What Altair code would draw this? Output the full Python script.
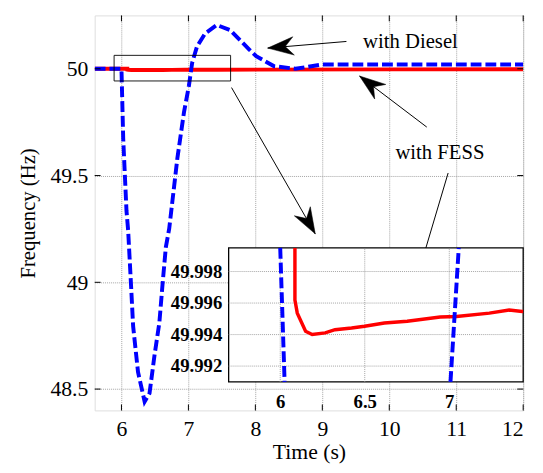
import math
import altair as alt
import pandas as pd

# ---------------- data ----------------
x_domain = [5.6, 12.0]
y_domain = [48.4, 50.25]
x_ticks = [6, 7, 8, 9, 10, 11, 12]
y_ticks = [48.5, 49, 49.5, 50]

# with Diesel (blue dashed)
diesel_t = [5.6, 6.0, 6.026, 6.075, 6.1, 6.149, 6.174, 6.247, 6.346, 6.419, 6.493,
            6.566, 6.615, 6.663, 6.713, 6.835, 6.934, 7.007, 7.056, 7.129, 7.251,
            7.424, 7.619, 7.913, 8.012, 8.281, 8.6, 8.993, 12.0]
diesel_f = [50.0, 50.0, 49.673, 49.335, 49.242, 48.950, 48.795, 48.580, 48.441, 48.480,
            48.657, 48.811, 48.996, 49.165, 49.251, 49.581, 49.797, 49.920, 50.028,
            50.105, 50.166, 50.205, 50.182, 50.089, 50.059, 50.012, 50.0, 50.02, 50.02]

# with FESS (red solid)
fess_t = [5.6, 6.087, 6.087, 6.101, 6.150, 6.189, 6.266, 6.324, 6.422, 6.499, 6.616,
          6.751, 6.946, 7.043, 7.237, 7.354, 7.431, 8.0, 10.0, 12.0]
fess_f = [50.0, 50.0, 49.99619, 49.99536, 49.99421, 49.99400, 49.99411, 49.99431,
          49.99442, 49.99453, 49.99473, 49.99484, 49.99511, 49.99515, 49.99536,
          49.99556, 49.99546, 49.9962, 49.9972, 49.9980]

# inset (zoom) axes
inset_x_domain = [5.695, 7.437]
inset_y_domain = [49.991, 49.9995]
inset_x_ticks = [6, 6.5, 7]
inset_y_ticks = [49.992, 49.994, 49.996, 49.998]

# zoom rectangle on main plot
zoom_box_t = [5.89, 7.63]
zoom_box_f = [49.943, 50.063]

# arrows: start (t0,f0) -> tip (t1,f1)
arrow_t0 = [9.360, 10.560, 7.644, 10.879]
arrow_f0 = [50.128, 49.727, 49.912, 49.512]
arrow_t1 = [8.184, 9.556, 8.894, 10.325]
arrow_f1 = [50.097, 49.966, 49.227, 48.927]

label_text = ["with Diesel", "with FESS"]
label_t = [10.316, 10.757]
label_f = [50.123, 49.604]

# ---------------- layout ----------------
W, H = 435, 401
inset_x_range = [136, 435]
inset_y_range = [372, 236]
FONT = "Liberation Serif, serif"
BLUE = "#0000ff"
RED = "#ff0000"

px_t = W / (x_domain[1] - x_domain[0])
px_f = H / (y_domain[1] - y_domain[0])

main_xs = alt.Scale(domain=x_domain, nice=False, zero=False)
main_ys = alt.Scale(domain=y_domain, nice=False, zero=False)
main_xa = alt.Axis(values=x_ticks, format="d", title="Time (s)", grid=True,
                   gridColor="#9a9a9a", gridDash=[1, 1], gridWidth=0.9,
                   ticks=False, domain=False, labelFont=FONT, labelFontSize=22,
                   labelColor="black", labelPadding=8, titleFont=FONT,
                   titleFontSize=22, titleFontWeight="normal", titleColor="black",
                   titlePadding=3)
main_ya = alt.Axis(values=y_ticks, format="~g", title="Frequency (Hz)", grid=True,
                   gridColor="#9a9a9a", gridDash=[1, 1], gridWidth=0.9,
                   ticks=False, domain=False, labelFont=FONT, labelFontSize=22,
                   labelColor="black", labelPadding=7, titleFont=FONT,
                   titleFontSize=21, titleFontWeight="normal", titleColor="black",
                   titlePadding=12)


def MX(f):
    return alt.X(f, type="quantitative", scale=main_xs, axis=main_xa)


def MY(f):
    return alt.Y(f, type="quantitative", scale=main_ys, axis=main_ya)


ins_xs = alt.Scale(domain=inset_x_domain, range=inset_x_range, nice=False, zero=False)
ins_ys = alt.Scale(domain=inset_y_domain, range=inset_y_range, nice=False, zero=False,
                   clamp=True)
ins_xa = alt.Axis(orient="bottom", offset=-(H - inset_y_range[0]), values=inset_x_ticks,
                  format="~g", title=None, grid=False, ticks=False, domain=False,
                  labelFont=FONT, labelFontSize=19, labelFontWeight="bold",
                  labelColor="black", labelPadding=11, zindex=1)
ins_ya = alt.Axis(orient="left", offset=-inset_x_range[0], values=inset_y_ticks,
                  format=".3f", title=None, grid=False, ticks=False, domain=False,
                  labelFont=FONT, labelFontSize=19, labelFontWeight="bold",
                  labelColor="black", labelPadding=7, zindex=1)


def IX(f):
    return alt.X(f, type="quantitative", scale=ins_xs, axis=ins_xa)


def IY(f):
    return alt.Y(f, type="quantitative", scale=ins_ys, axis=ins_ya)


diesel_df = pd.DataFrame({"t": diesel_t, "f": diesel_f, "k": range(len(diesel_t))})
fess_df = pd.DataFrame({"t": fess_t, "f": fess_f, "k": range(len(fess_t))})


def inset_rows(ts, fs):
    lo, hi = inset_y_domain
    rows = []
    grp = -1
    last = None
    for i in range(len(ts) - 1):
        a, b = fs[i], fs[i + 1]
        outside = (a > hi and b > hi) or (a < lo and b < lo) or ts[i] > inset_x_domain[1]
        if outside:
            continue
        if last != i:
            grp += 1
            rows.append({"t": ts[i], "f": fs[i], "g": grp, "k": i})
        rows.append({"t": ts[i + 1], "f": fs[i + 1], "g": grp, "k": i + 1})
        last = i + 1
    return pd.DataFrame(rows)


# ---------------- main layers ----------------
red_main = alt.Chart(fess_df).mark_line(color=RED, strokeWidth=4, clip=True).encode(
    x=MX("t"), y=MY("f"), order="k:Q")
blue_main = alt.Chart(diesel_df).mark_line(color=BLUE, strokeWidth=4, strokeDash=[11, 4],
                                           clip=True).encode(
    x=MX("t"), y=MY("f"), order="k:Q")

box_df = pd.DataFrame({"t0": [zoom_box_t[0]], "t1": [zoom_box_t[1]],
                       "f0": [zoom_box_f[0]], "f1": [zoom_box_f[1]]})
box = alt.Chart(box_df).mark_rect(fill="white", fillOpacity=0, stroke="black",
                                  strokeWidth=0.9).encode(
    x=MX("t0"), x2="t1", y=MY("f0"), y2="f1")

ang = []
for a, b, c, d in zip(arrow_t0, arrow_f0, arrow_t1, arrow_f1):
    dx = (c - a) * px_t
    dy = -(d - b) * px_f
    ang.append(math.degrees(math.atan2(dx, -dy)) % 360)
arrow_df = pd.DataFrame({"t0": arrow_t0, "f0": arrow_f0, "t1": arrow_t1, "f1": arrow_f1,
                         "ang": ang})
arrow_lines = alt.Chart(arrow_df).mark_rule(color="black", strokeWidth=1).encode(
    x=MX("t0"), y=MY("f0"), x2="t1", y2="f1")
head_path = "M0,0 L0.6,1.7 L0,1.15 L-0.6,1.7 Z"
arrow_heads = alt.Chart(arrow_df).mark_point(shape=head_path, filled=True, fill="black",
                                             stroke="black", strokeWidth=0.5, size=961,
                                             opacity=1).encode(
    x=MX("t1"), y=MY("f1"), angle=alt.Angle("ang:Q", scale=None))

lab_df = pd.DataFrame({"text": label_text, "t": label_t, "f": label_f})
labels = alt.Chart(lab_df).mark_text(font=FONT, fontSize=21, color="black",
                                     align="center", baseline="middle").encode(
    x=MX("t"), y=MY("f"), text="text:N")

xt_df = pd.DataFrame({"v": x_ticks})
yt_df = pd.DataFrame({"v": y_ticks})
tick_b = alt.Chart(xt_df).mark_rule(color="black", strokeWidth=1).encode(
    x=MX("v"), y=alt.value(H), y2=alt.value(H - 6))
tick_t = alt.Chart(xt_df).mark_rule(color="black", strokeWidth=1).encode(
    x=MX("v"), y=alt.value(0), y2=alt.value(6))
tick_l = alt.Chart(yt_df).mark_rule(color="black", strokeWidth=1).encode(
    y=MY("v"), x=alt.value(0), x2=alt.value(6))
tick_r = alt.Chart(yt_df).mark_rule(color="black", strokeWidth=1).encode(
    y=MY("v"), x=alt.value(W), x2=alt.value(W - 6))

main = alt.layer(red_main, blue_main, box, tick_b, tick_t, tick_l, tick_r,
                 arrow_lines, labels, arrow_heads)

# ---------------- inset layers ----------------
ibox_df = pd.DataFrame({"t0": [inset_x_domain[0]], "t1": [inset_x_domain[1]],
                        "f0": [inset_y_domain[0]], "f1": [inset_y_domain[1]]})
ibox = alt.Chart(ibox_df).mark_rect(fill="white", stroke="black", strokeWidth=1.3).encode(
    x=IX("t0"), x2="t1", y=IY("f0"), y2="f1")

igx_df = pd.DataFrame({"v": inset_x_ticks, "f0": inset_y_domain[0],
                       "f1": inset_y_domain[1]})
igy_df = pd.DataFrame({"v": inset_y_ticks, "t0": inset_x_domain[0],
                       "t1": inset_x_domain[1]})
igrid_x = alt.Chart(igx_df).mark_rule(color="#9a9a9a", strokeWidth=0.9,
                                      strokeDash=[1, 1]).encode(
    x=IX("v"), y=IY("f0"), y2="f1")
igrid_y = alt.Chart(igy_df).mark_rule(color="#9a9a9a", strokeWidth=0.9,
                                      strokeDash=[1, 1]).encode(
    y=IY("v"), x=IX("t0"), x2="t1")

ired = alt.Chart(inset_rows(fess_t, fess_f)).mark_line(
    color=RED, strokeWidth=3.5, clip=True).encode(
    x=IX("t"), y=IY("f"), detail="g:N", order="k:Q")
iblue = alt.Chart(inset_rows(diesel_t, diesel_f)).mark_line(
    color=BLUE, strokeWidth=4, strokeDash=[11, 4], clip=True).encode(
    x=IX("t"), y=IY("f"), detail="g:N", order="k:Q")

inset = alt.layer(ibox, igrid_x, igrid_y, ired, iblue)

chart = alt.layer(main, inset).resolve_scale(x="independent", y="independent").properties(
    width=W, height=H, autosize="none",
    padding={"left": 88, "top": 4, "right": 12, "bottom": 60},
).configure_view(stroke="black", strokeWidth=1.3).configure(background="white")

chart.save("out.html", embed_options={"renderer": "svg", "actions": False})
